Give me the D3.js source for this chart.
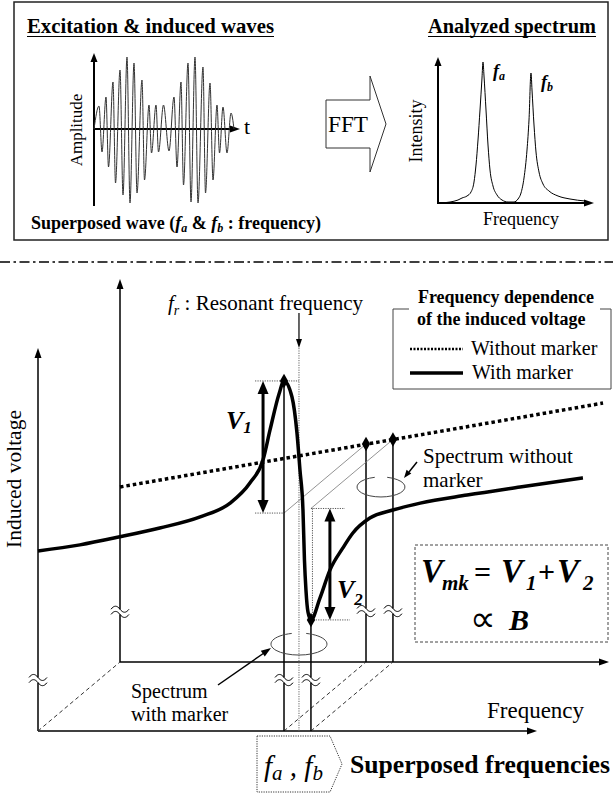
<!DOCTYPE html>
<html>
<head>
<meta charset="utf-8">
<script src="https://cdn.jsdelivr.net/npm/d3@7/dist/d3.min.js"></script>
<style>
  body { margin: 0; background: #fff; }
  svg { display: block; }
  text { font-family: "Liberation Serif", "Times New Roman", Times, serif; fill: #000; }
</style>
</head>
<body>
<svg id="fig" width="613" height="795" font-family="Liberation Serif, Times New Roman, serif"></svg>
<script>
// superposed wave, extrema (time, amplitude)
const waveTime = [0, 5, 8, 12, 14.5, 19, 21.5, 26, 29, 33, 36, 40, 43, 48, 50.5, 55, 57.5, 62, 64.5, 69.5,
  75, 80, 83, 87, 89.5, 94, 97, 101, 104, 109, 111.5, 116, 119, 123, 125.5, 129, 133, 137, 140];
const waveAmp = [0, 23, -23, 32, -38, 47, -54, 59, -66, 72, -74, 66, -64, 49, -51, 24, -24, 24, -23, 24,
  -22, 32, -38, 47, -56, 66, -73, 72, -74, 62, -64, 46, -51, 24, -24, 22, -24, 16, 0];

// analysed spectrum (frequency, intensity)
const specFreq = [2, 12, 20, 24, 29, 33, 36, 38, 40, 42, 44, 45, 46, 48, 50, 52, 55, 59, 64, 70,
  76, 80, 83, 86, 89, 91, 93, 94, 96, 98, 101, 105, 111, 120, 132, 147];
const specInt = [0, 1, 3, 5, 7, 11, 21, 38, 63, 93, 125, 141, 127, 93, 58, 33, 17, 8, 3, 1,
  1, 4, 10, 25, 53, 83, 130, 113, 78, 51, 31, 19, 12, 7, 4, 2];
const peakNames = ["a", "b"];
const peakFreq = [45, 93];
const peakInt = [141, 130];

// frequency dependence of induced voltage (arbitrary units)
const markerFreq = [0, 8.4, 16.4, 24.4, 32.5, 38.5, 42.5, 45.1, 46.5, 48.3, 49.3, 50.9, 51.9, 52.5, 53.1,
  53.4, 53.7, 54.1, 54.7, 56.5, 58.5, 61.1, 63.1, 66.5, 71.1, 76.6, 86, 96.6, 109.2];
const markerVolt = [47.0, 48.6, 50.7, 53.0, 55.9, 59.5, 64.8, 70.8, 78.6, 88.0, 91.4, 87.2, 77.8, 68.1, 57.7,
  44.6, 36.8, 31.1, 29.0, 34.7, 42.0, 47.8, 51.7, 55.6, 57.7, 59.5, 61.6, 63.7, 66.1];
const noMarkerFreq = [0, 96.8];
const noMarkerVolt = [45.7, 67.6];
const superFreq = [49.3, 54.7];      // f_a, f_b
const superNoMarker = [56.9, 58.1];  // without marker at f_a, f_b
const superMarker = [91.4, 29.0];    // with marker at f_a, f_b
const resFreq = 52.3;

const svg = d3.select("#fig");
const ink = "#000";
const SERIF = '"Liberation Serif", "Times New Roman", Times, serif';

function seg(x1, y1, x2, y2, w = 1, col = ink, dash = null) {
  const l = svg.append("line").attr("x1", x1).attr("y1", y1).attr("x2", x2).attr("y2", y2)
    .attr("stroke", col).attr("stroke-width", w);
  if (dash) l.attr("stroke-dasharray", dash);
  return l;
}
function head(x, y, ang, L = 10, Wd = 7) {
  svg.append("path").attr("d", `M0,0L${-L},${-Wd / 2}L${-L},${Wd / 2}Z`)
    .attr("transform", `translate(${x},${y}) rotate(${ang})`).attr("fill", ink);
}
function txt(x, y, s, size, opts = {}) {
  const t = svg.append("text").attr("x", x).attr("y", y)
    .style("font-family", SERIF).style("font-size", size + "px");
  if (opts.bold) t.style("font-weight", "bold");
  if (opts.italic) t.style("font-style", "italic");
  if (opts.anchor) t.attr("text-anchor", opts.anchor);
  if (opts.len) t.attr("textLength", opts.len).attr("lengthAdjust", "spacingAndGlyphs");
  if (opts.rot) t.attr("transform", `rotate(${opts.rot},${x},${y})`);
  if (s !== null) t.text(s);
  return t;
}
function sub(t, s, size, dy, italic = true) {
  t.append("tspan").attr("dy", dy).style("font-size", size + "px")
    .style("font-style", italic ? "italic" : "normal").text(s);
}
function brk(x, y) {
  svg.append("rect").attr("x", x - 3).attr("y", y - 2.5).attr("width", 6).attr("height", 5).attr("fill", "#fff");
  [-2.6, 2.6].forEach(o => {
    svg.append("path").attr("d", `M${x - 9},${y + o} C${x - 6},${y + o - 4} ${x - 3},${y + o - 4} ${x},${y + o} S${x + 6},${y + o + 4} ${x + 9},${y + o}`)
      .attr("fill", "none").attr("stroke", ink).attr("stroke-width", 1);
  });
}

// ---------- top panel ----------
svg.append("rect").attr("x", 14).attr("y", 2).attr("width", 594).attr("height", 238)
  .attr("fill", "none").attr("stroke", "#222").attr("stroke-width", 1.5);

txt(27, 33, "Excitation & induced waves", 20.5, {bold: true, len: 247});
seg(27, 36.5, 274, 36.5, 1.2);
txt(428, 33, "Analyzed spectrum", 20.5, {bold: true, len: 168});
seg(428, 36.5, 596, 36.5, 1.2);

// wave
const xW = d3.scaleLinear().domain([0, 142]).range([94, 236]);
const yW = d3.scaleLinear().domain([-76, 76]).range([205, 53]);
seg(94, 206, 94, 60, 2);
head(94, 53, -90, 9, 7);
seg(94, yW(0), 232, yW(0), 2);
head(240, yW(0), 0, 10, 7);
txt(244, yW(0) + 5, "t", 22);
txt(82, 130, "Amplitude", 17, {anchor: "middle", rot: -90});
svg.append("path")
  .datum(d3.zip(waveTime, waveAmp))
  .attr("d", d3.line().x(d => xW(d[0])).y(d => yW(d[1])).curve(d3.curveMonotoneX))
  .attr("fill", "none").attr("stroke", "#333").attr("stroke-width", 1);

// FFT block arrow
svg.append("path").attr("d", "M326,100L370,100L370,76L386,124L370,172L370,148L326,148Z")
  .attr("fill", "#fff").attr("stroke", "#333").attr("stroke-width", 1);
txt(348, 132, "FFT", 24, {anchor: "middle", len: 40});

// spectrum
const xS = d3.scaleLinear().domain([0, 155]).range([438, 593]);
const yS = d3.scaleLinear().domain([0, 146]).range([203, 57]);
seg(xS(0), yS(0) + 1, xS(0), 66, 2);
head(xS(0), 57, -90, 9, 7);
seg(xS(0), yS(0), 585, yS(0), 2);
head(594, yS(0), 0, 10, 7);
svg.append("path")
  .datum(d3.zip(specFreq, specInt))
  .attr("d", d3.line().x(d => xS(d[0])).y(d => yS(d[1])).curve(d3.curveMonotoneX))
  .attr("fill", "none").attr("stroke", ink).attr("stroke-width", 1);
peakNames.forEach((n, i) => {
  const t = txt(xS(peakFreq[i]) + 10, yS(peakInt[i]) + 15, null, 18, {bold: true, italic: true});
  t.append("tspan").text("f");
  sub(t, n, 12, 3);
});
txt(422, 131, "Intensity", 18, {anchor: "middle", rot: -90});
txt(521, 225, "Frequency", 18, {anchor: "middle"});

// caption
{
  const t = txt(31, 229, null, 18, {bold: true, len: 290});
  t.append("tspan").text("Superposed wave (");
  t.append("tspan").style("font-style", "italic").text("f");
  sub(t, "a", 12, 3);
  t.append("tspan").attr("dy", -3).text(" & ");
  t.append("tspan").style("font-style", "italic").text("f");
  sub(t, "b", 12, 3);
  t.append("tspan").attr("dy", -3).text(" : frequency)");
}

// separator
seg(0, 262, 613, 262, 1.3, ink, "10,3.5,2.5,3.5");

// ---------- 3D panel ----------
const xF = d3.scaleLinear().domain([0, 100]).range([38, 537]);
const yV = d3.scaleLinear().domain([0, 100]).range([731, 348]);
const DX = 82, DY = -69;           // depth offset of the back plane
const fx = f => xF(f), fy = v => yV(v);
const bx = f => xF(f) + DX, by = v => yV(v) + DY;

// axes
seg(fx(0), fy(0), fx(0), fy(100) + 8, 1.5); head(fx(0), fy(100), -90, 10, 7);
seg(bx(0), by(0), bx(0), by(100) + 8, 1.5); head(bx(0), by(100), -90, 10, 7);
seg(fx(0), fy(0), fx(100) - 8, fy(0), 1.5); head(fx(100), fy(0), 0, 10, 7);
seg(bx(0), by(0), bx(98) - 8, by(0), 1.5); head(bx(98), by(0), 0, 10, 7);
seg(fx(0), fy(0), bx(0), by(0), 1, "#333", "4,3");

// resonant frequency dotted line and pointer
seg(fx(resFreq), fy(100), fx(resFreq), fy(0), 1, "#666", "1.2,1.2");
seg(fx(resFreq), 313, fx(resFreq), fy(100) - 8, 1.2);
head(fx(resFreq), fy(100), 90, 9, 6);

// depth lines + vertical spectrum lines
superFreq.forEach((f, i) => {
  seg(fx(f), fy(0), bx(f), by(0), 1, "#333", "4,3");
  seg(bx(f), by(superNoMarker[i]), fx(f), fy(superNoMarker[i]), 0.8, "#777");
  seg(bx(f), by(superNoMarker[i]), bx(f), by(0), 1.5);
  seg(fx(f), fy(superMarker[i]), fx(f), fy(0), 1.5);
});

// reference dotted levels
const dotted = "1.2,1.2";
seg(fx(43.5), fy(superMarker[0]), fx(resFreq), fy(superMarker[0]), 1, "#555", dotted);
seg(fx(43.5), fy(superNoMarker[0]), fx(superFreq[0]), fy(superNoMarker[0]), 1, "#555", dotted);
seg(fx(superFreq[1]), fy(superNoMarker[1]), fx(61.5), fy(superNoMarker[1]), 1, "#555", dotted);
seg(fx(superFreq[1]) + 1.5, fy(superNoMarker[1]), fx(superFreq[1]) + 1.5, fy(superMarker[1]), 1, "#555", dotted);
seg(fx(superFreq[1]), fy(superMarker[1]), fx(62.5), fy(superMarker[1]), 1, "#555", dotted);

// curves
svg.append("path")
  .datum(d3.zip(noMarkerFreq, noMarkerVolt))
  .attr("d", d3.line().x(d => bx(d[0])).y(d => by(d[1])))
  .attr("fill", "none").attr("stroke", ink).attr("stroke-width", 3.5).attr("stroke-dasharray", "3.5,3");
svg.append("path")
  .datum(d3.zip(markerFreq, markerVolt))
  .attr("d", d3.line().x(d => fx(d[0])).y(d => fy(d[1])).curve(d3.curveMonotoneX))
  .attr("fill", "none").attr("stroke", ink).attr("stroke-width", 3.5);

// breaks
[[fx(0), fy(13.3)], [bx(0), by(13.1)]].forEach(p => brk(p[0], p[1]));
superFreq.forEach(f => { brk(fx(f), fy(13.3)); brk(bx(f), by(13.3)); });

// diamonds
const dia = d3.symbol().type(d3.symbolDiamond).size(60);
superFreq.forEach((f, i) => {
  svg.append("path").attr("d", dia).attr("transform", `translate(${fx(f)},${fy(superMarker[i])})`).attr("fill", ink);
  svg.append("path").attr("d", dia).attr("transform", `translate(${bx(f)},${by(superNoMarker[i])})`).attr("fill", ink);
});

// V1 and V2 arrows
function dbl(x, yTop, yBot) {
  seg(x, yTop + 10, x, yBot - 10, 3);
  head(x, yTop, -90, 13, 11);
  head(x, yBot, 90, 13, 11);
}
dbl(fx(45.1), fy(superMarker[0]), fy(superNoMarker[0]));
dbl(fx(58.5), fy(superNoMarker[1]), fy(superMarker[1]));
{
  const t1 = txt(226, 429, null, 26, {bold: true, italic: true});
  t1.append("tspan").text("V");
  sub(t1, "1", 17, 4);
  const t2 = txt(337, 598, null, 26, {bold: true, italic: true});
  t2.append("tspan").text("V");
  sub(t2, "2", 17, 7);
}

// ellipses
function ell(cx, cy, rx, ry) {
  const a0 = -75 * Math.PI / 180, a1 = -105 * Math.PI / 180;
  svg.append("path")
    .attr("d", `M${cx + rx * Math.cos(a0)},${cy + ry * Math.sin(a0)} A${rx},${ry} 0 1 1 ${cx + rx * Math.cos(a1)},${cy + ry * Math.sin(a1)}`)
    .attr("fill", "none").attr("stroke", "#444").attr("stroke-width", 1);
}
ell(fx(resFreq), fy(22.7), 28, 11);
ell(bx(resFreq), by(45.7), 24, 10);

// pointers
seg(218, 685, 264, 653, 1.5); head(271, 648, -34.8, 10, 7);
seg(417, 462, 409, 472, 1.5); head(404, 478, 128, 8, 6);

// labels
{
  const t = txt(168, 310, null, 21);
  t.append("tspan").style("font-style", "italic").text("f");
  sub(t, "r", 14, 5);
  t.append("tspan").attr("dy", -5).text(" : Resonant frequency");
}
txt(131, 698, "Spectrum", 20);
txt(131, 721, "with  marker", 20);
txt(423, 463, "Spectrum without", 21);
txt(423, 487, "marker", 21);
txt(487, 718, "Frequency", 23);
txt(21, 479, "Induced voltage", 21.5, {anchor: "middle", rot: -90});

// legend box
seg(393, 309, 409, 309, 1, "#444");
seg(600, 309, 611, 309, 1, "#444");
seg(393, 309, 393, 389, 1, "#444");
seg(393, 389, 611, 389, 1, "#444");
seg(611, 309, 611, 389, 1, "#444");
txt(506, 303, "Frequency dependence", 18, {bold: true, anchor: "middle"});
txt(417, 325, "of the induced voltage", 18, {bold: true});
seg(410, 349, 463, 349, 2.5, ink, "2,1.5");
txt(471, 355, "Without marker", 20);
seg(410, 373, 463, 373, 3.5);
txt(472, 379, "With marker", 20);

// formula box
svg.append("rect").attr("x", 415).attr("y", 545).attr("width", 193).attr("height", 97)
  .attr("fill", "none").attr("stroke", "#444").attr("stroke-width", 1).attr("stroke-dasharray", "3,2");
{
  const bi = {bold: true, italic: true};
  txt(421, 582, "V", 33, bi);
  txt(442, 590, "mk", 21, bi);
  txt(474, 582, "=", 30, {bold: true});
  txt(501, 582, "V", 33, bi);
  txt(526, 590, "1", 21, bi);
  txt(538, 582, "+", 30, {bold: true});
  txt(557, 582, "V", 33, bi);
  txt(583, 590, "2", 21, bi);
  txt(470, 631, "\u221D", 36);
  txt(509, 630, "B", 30, bi);
}

// superposed frequencies tag
svg.append("path").attr("d", "M257,736L330,736L342,764L330,792L257,792Z")
  .attr("fill", "none").attr("stroke", "#333").attr("stroke-width", 1).attr("stroke-dasharray", "1.2,1.2");
{
  const t = txt(264, 776, null, 29, {italic: true});
  t.append("tspan").text("f");
  sub(t, "a", 21, 4);
  t.append("tspan").attr("dy", -4).text(" , ");
  t.append("tspan").text("f");
  sub(t, "b", 21, 4);
}
txt(350, 773, "Superposed frequencies", 25, {bold: true, len: 260});
</script>
</body>
</html>
